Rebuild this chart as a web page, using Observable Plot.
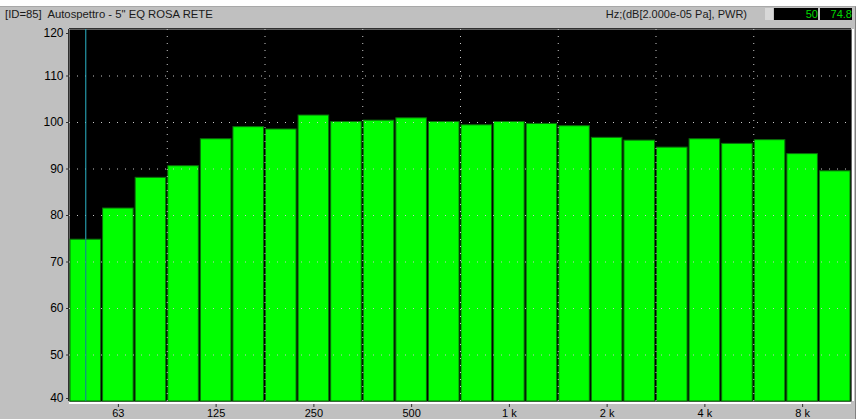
<!DOCTYPE html>
<html>
<head>
<meta charset="utf-8">
<script src="https://cdn.jsdelivr.net/npm/d3@7"></script>
<script src="https://cdn.jsdelivr.net/npm/@observablehq/plot@0.6"></script>
<style>
  html, body { margin: 0; padding: 0; background: #ffffff; }
  #wrap { position: relative; width: 860px; height: 419px; overflow: hidden; background: #ffffff; font-family: "Liberation Sans", Arial, sans-serif; }
  #panel { position: absolute; left: 0; top: 6px; width: 855px; height: 413px; background: #c0c0c0; border-right: 1px solid #808080; border-top: 1px solid #a8a8a8; }
  #title { position: absolute; left: 5px; top: 8px; font-size: 11.3px; color: #1a1a1a; white-space: pre; }
  #unit { position: absolute; right: 113px; top: 8px; font-size: 11px; color: #1a1a1a; white-space: pre; }
  .box { position: absolute; top: 8px; height: 12px; }
  #b0 { left: 765px; width: 8px; background: #d8d8d8; }
  #b1 { left: 774px; width: 44px; background: #000; color: #00d800; font-size: 11px; text-align: right; line-height: 12px; }
  #b2 { left: 820px; width: 32px; background: #000; color: #00d800; font-size: 11px; text-align: right; line-height: 12px; }
  #chart { position: absolute; left: 0; top: 25px; }
  #chart svg { display: block; overflow: visible; }
</style>
</head>
<body>
<div id="wrap">
  <div id="panel"></div>
  <div id="title"></div>
  <div id="unit"></div>
  <div class="box" id="b0"></div>
  <div class="box" id="b1"></div>
  <div class="box" id="b2"></div>
  <div id="chart"></div>
</div>
<script>
// ---- data ----
const titleText = "[ID=85]  Autospettro - 5\" EQ ROSA RETE";
const unitText = "Hz;(dB[2.000e-05 Pa], PWR)";
const bands = ["50","63","80","100","125","160","200","250","315","400","500","630","800","1k","1.25k","1.6k","2k","2.5k","3.15k","4k","5k","6.3k","8k","10k"];
const levels = [74.8,81.5,88.1,90.6,96.4,99.0,98.5,101.5,100.1,100.4,100.9,100.1,99.4,100.1,99.7,99.2,96.7,96.1,94.6,96.4,95.4,96.2,93.2,89.5];
const tickBands = ["63","125","250","500","1k","2k","4k","8k"];
const tickLabels = ["63","125","250","500","1 k","2 k","4 k","8 k"];
const yTicksMid = [50,60,70,80,90,100,110];
const yTickTop = [120];
const yTickBottom = [40];
const yGrid = [50,60,70,80,90,100,110];
const gridBands = ["100","200","400","800","1.6k","3.15k","6.3k"];
const cursorBand = "50";

// ---- build ----
document.getElementById("title").textContent = titleText;
document.getElementById("unit").textContent = unitText;
const ci = bands.indexOf(cursorBand);
document.getElementById("b1").textContent = cursorBand;
document.getElementById("b2").textContent = levels[ci];

const data = bands.map((b, i) => ({band: b, i, level: levels[i]}));
const idx = b => bands.indexOf(b);
const yMin = 40, yMax = 120;
const yAxisOpts = {tickSize: 3, tickPadding: 3, anchor: "left", fontSize: 12, label: null, stroke: "#303030"};

const chart = Plot.plot({
  width: 860,
  height: 394,
  marginTop: 4,
  marginBottom: 18,
  marginLeft: 69,
  marginRight: 9,
  style: {background: "transparent", fontFamily: "Liberation Sans, Arial, sans-serif", fontSize: "11px", color: "#000"},
  x: {type: "linear", domain: [0, bands.length], axis: null},
  y: {domain: [yMin, yMax], axis: null},
  marks: [
    Plot.frame({fill: "black", stroke: null}),
    Plot.rectY(data, {x1: "i", x2: d => d.i + 1, y1: yMin, y2: "level", fill: "#00ff00", stroke: "#0b6e0b", strokeWidth: 1, insetLeft: 1, insetRight: 1}),
    Plot.ruleY(yGrid, {stroke: "#c8c8c8", strokeWidth: 1, strokeDasharray: "1,7"}),
    Plot.ruleX(gridBands, {x: idx, y1: yMin, y2: yMax, stroke: "#c8c8c8", strokeWidth: 1, strokeDasharray: "1,6"}),
    Plot.ruleX([cursorBand], {x: b => idx(b) + 0.5, y1: levels[ci], y2: yMax, stroke: "#2cb4c8", strokeWidth: 1}),
    Plot.ruleX([cursorBand], {x: b => idx(b) + 0.5, y1: yMin, y2: levels[ci], stroke: "#1478a8", strokeWidth: 1}),
    Plot.ruleX([0], {stroke: "#303030", strokeWidth: 1, dx: -1}),
    Plot.ruleY([yMax], {stroke: "#303030", strokeWidth: 1, dy: -1}),
    Plot.ruleY([yMin], {stroke: "#ffffff", strokeWidth: 2, dy: 1.5}),
    Plot.ruleX([bands.length], {stroke: "#ffffff", strokeWidth: 2, dx: 1.5}),
    Plot.axisY({...yAxisOpts, ticks: yTicksMid}),
    Plot.axisY({...yAxisOpts, ticks: yTickTop, dy: 4}),
    Plot.axisY({...yAxisOpts, ticks: yTickBottom, dy: -3}),
    Plot.axisX({ticks: tickBands.map(b => idx(b) + 0.5), tickFormat: (v) => tickLabels[tickBands.indexOf(bands[Math.round(v - 0.5)])], tickSize: 3, tickPadding: 2, dy: 3, anchor: "bottom", label: null, fontSize: 11, stroke: "#303030"})
  ]
});
document.getElementById("chart").appendChild(chart);
</script>
</body>
</html>
